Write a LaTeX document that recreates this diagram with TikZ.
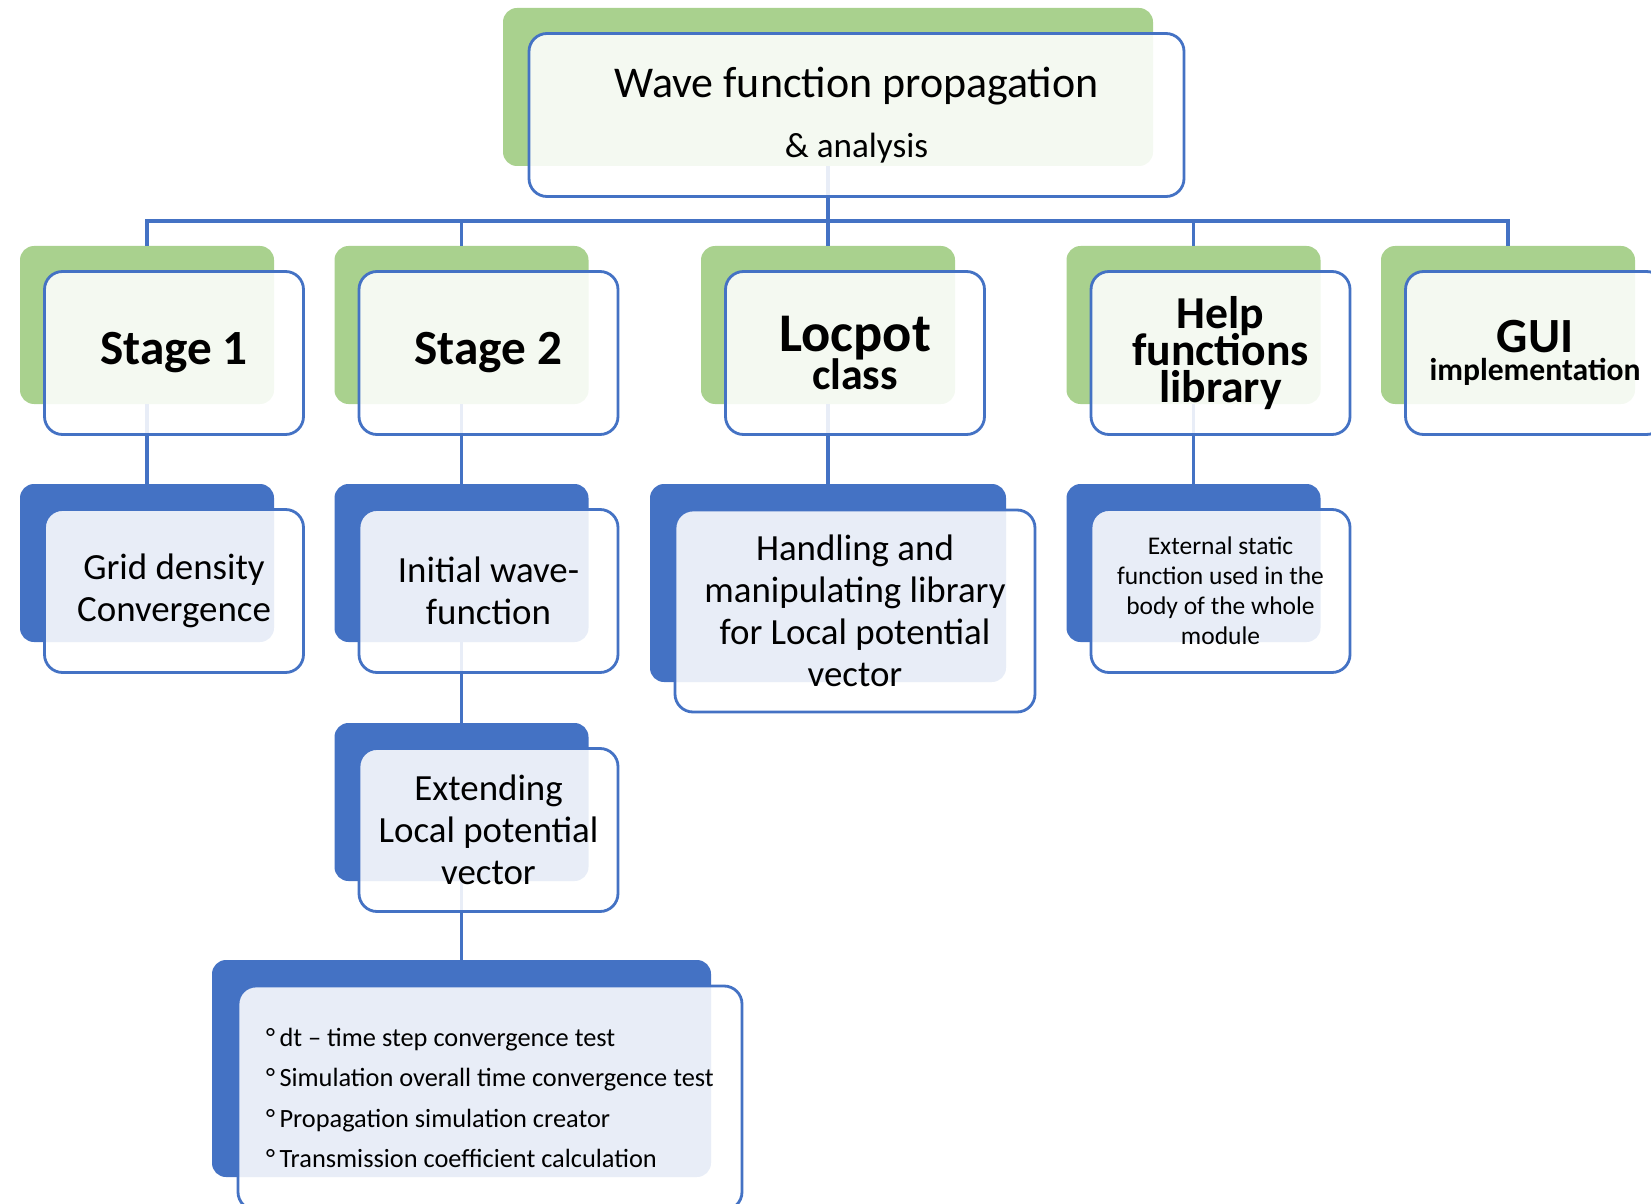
\documentclass[tikz,border=0pt]{standalone}
\usepackage{fontspec}
\setmainfont{Carlito}
\usepackage{xcolor}
\usepackage{tikz}
\usetikzlibrary{positioning}

\definecolor{accgreen}{HTML}{A9D18E}
\definecolor{accblue}{HTML}{4472C4}

\begin{document}
\begin{tikzpicture}[
    backg/.style={fill=accgreen, rounded corners=0.28cm, inner sep=0, minimum width=5.08cm, minimum height=3.16cm},
    backb/.style={backg, fill=accblue},
    front/.style={draw=accblue, line width=1.6pt, fill=white, fill opacity=0.88, text opacity=1,
        rounded corners=0.36cm, inner sep=2pt, align=center,
        minimum width=5.18cm, minimum height=3.26cm, xshift=0.54cm, yshift=-0.56cm},
    link/.style={draw=accblue, line width=2pt},
    head/.style={font=\fontsize{28}{21}\selectfont\bfseries},
    body/.style={font=\fontsize{21}{24}\selectfont}]
    \useasboundingbox (0,0) rectangle (33.02,-24.08);

    % coloured backs
    \node[backg, minimum width=13cm] (WFb) at (16.56,-1.74) {};
    \node[backg] (S1b) at (2.94,-6.5) {};
    \node[backg] (S2b) at (9.23,-6.5) {};
    \node[backg] (LCb) at (16.56,-6.5) {};
    \node[backg] (HFb) at (23.87,-6.5) {};
    \node[backg] (GUb) at (30.16,-6.5) {};
    \node[backb] (GDb) at (2.94,-11.26) {};
    \node[backb] (IWb) at (9.23,-11.26) {};
    \node[backb, minimum width=7.12cm, minimum height=3.96cm] (HLb) at (16.56,-11.66) {};
    \node[backb] (EXb) at (23.87,-11.26) {};
    \node[backb] (ELb) at (9.23,-16.04) {};
    \node[backb, minimum width=9.98cm, minimum height=4.34cm] (TSb) at (9.23,-21.37) {};

    % links
    \coordinate (bus) at (0,-4.42);
    \foreach \n in {S1b,S2b,LCb,HFb,GUb}
        \draw[link] (WFb.south) -- (WFb.south |- bus) -| (\n.north);
    \foreach \a/\b in {S1b/GDb, S2b/IWb, IWb/ELb, ELb/TSb, LCb/HLb, HFb/EXb}
        \draw[link] (\a) -- (\b);

    % white fronts with text
    \node[front, minimum width=13.1cm, xshift=0.03cm, font=\fontsize{25}{34}\selectfont] (WF) at (WFb)
        {Wave function propagation\\{\fontsize{20}{24}\selectfont \& analysis}};
    \node[front, head] (S1) at (S1b) {Stage 1};
    \node[front, head] (S2) at (S2b) {Stage 2};
    \node[front, head, font=\fontsize{31}{21}\selectfont\bfseries] (LC) at (LCb)
        {Locpot\\[-2pt]{\fontsize{25}{21}\selectfont class}};
    \node[front, head, font=\fontsize{26}{22}\selectfont\bfseries] (HF) at (HFb)
        {Help\\[-2pt]functions\\[-1pt]library};
    \node[front, head] (GU) at (GUb) {GUI\\[-5pt]{\fontsize{18}{19}\selectfont implementation}};

    \node[front, body] (GD) at (GDb) {Grid density\\Convergence};
    \node[front, body] (IW) at (IWb) {Initial wave-\\function};
    \node[front, body, minimum width=7.2cm, minimum height=4.04cm] (HL) at (HLb)
        {Handling and\\manipulating library\\for Local potential\\vector};
    \node[front, font=\fontsize{14.5}{17}\selectfont] (EX) at (EXb)
        {External static\\function used in the\\body of the whole\\module};
    \node[front, body] (EL) at (ELb) {Extending\\Local potential\\vector};
    \node[front, align=left, minimum width=10.08cm, minimum height=4.48cm, xshift=0.03cm, yshift=-0.03cm,
        font=\fontsize{15}{23}\selectfont] (TS) at (TSb)
        {°\,dt – time step convergence test\\
         °\,Simulation overall time convergence test\\
         °\,Propagation simulation creator\\
         °\,Transmission coefficient calculation};
\end{tikzpicture}
\end{document}
